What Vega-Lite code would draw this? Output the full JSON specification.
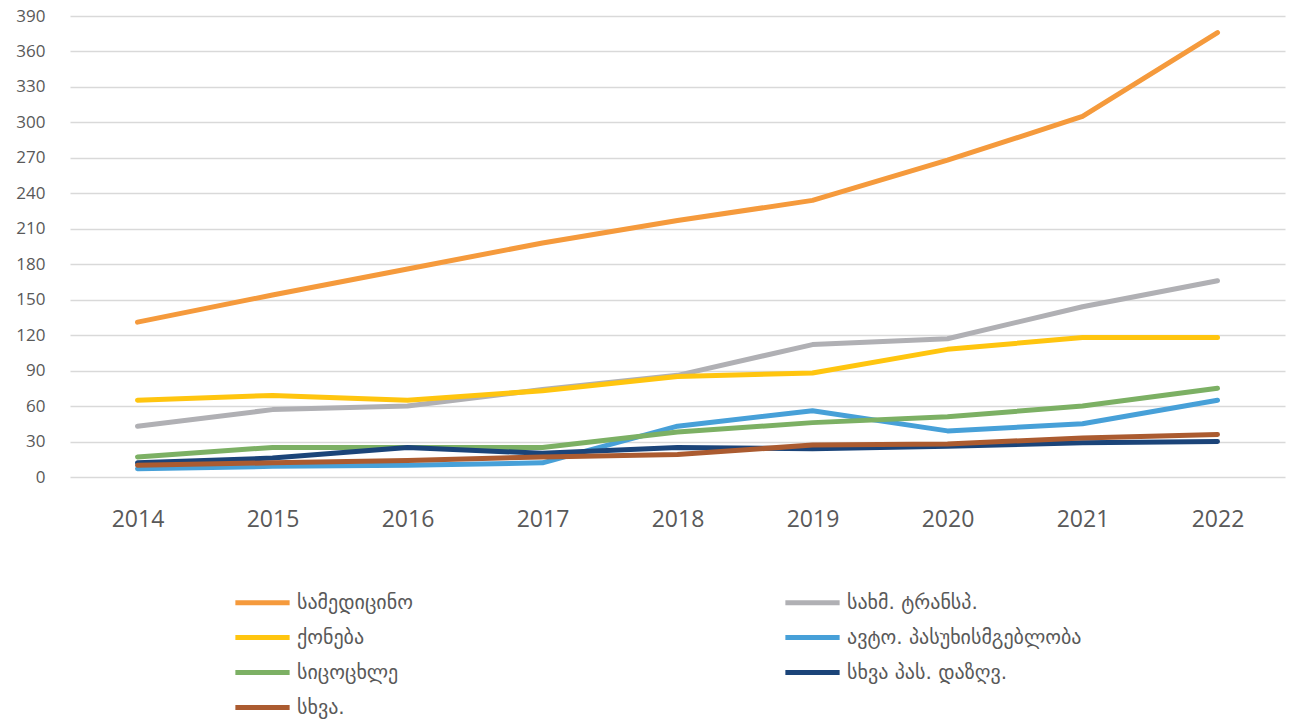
{
  "$schema": "https://vega.github.io/schema/vega-lite/v6.json",
  "width": 1215,
  "height": 461,
  "autosize": {"type": "none"},
  "padding": {"left": 70, "top": 16, "right": 12, "bottom": 247},
  "background": "white",
  "config": {"view": {"stroke": null}},
  "data": {"values": [
    {"year": "2014", "s": "სამედიცინო", "v": 131},
    {"year": "2015", "s": "სამედიცინო", "v": 154},
    {"year": "2016", "s": "სამედიცინო", "v": 176},
    {"year": "2017", "s": "სამედიცინო", "v": 198},
    {"year": "2018", "s": "სამედიცინო", "v": 217},
    {"year": "2019", "s": "სამედიცინო", "v": 234},
    {"year": "2020", "s": "სამედიცინო", "v": 268},
    {"year": "2021", "s": "სამედიცინო", "v": 305},
    {"year": "2022", "s": "სამედიცინო", "v": 376},
    {"year": "2014", "s": "სახმ. ტრანსპ.", "v": 43},
    {"year": "2015", "s": "სახმ. ტრანსპ.", "v": 57},
    {"year": "2016", "s": "სახმ. ტრანსპ.", "v": 60},
    {"year": "2017", "s": "სახმ. ტრანსპ.", "v": 74},
    {"year": "2018", "s": "სახმ. ტრანსპ.", "v": 86},
    {"year": "2019", "s": "სახმ. ტრანსპ.", "v": 112},
    {"year": "2020", "s": "სახმ. ტრანსპ.", "v": 117},
    {"year": "2021", "s": "სახმ. ტრანსპ.", "v": 144},
    {"year": "2022", "s": "სახმ. ტრანსპ.", "v": 166},
    {"year": "2014", "s": "ქონება", "v": 65},
    {"year": "2015", "s": "ქონება", "v": 69},
    {"year": "2016", "s": "ქონება", "v": 65},
    {"year": "2017", "s": "ქონება", "v": 73},
    {"year": "2018", "s": "ქონება", "v": 85},
    {"year": "2019", "s": "ქონება", "v": 88},
    {"year": "2020", "s": "ქონება", "v": 108},
    {"year": "2021", "s": "ქონება", "v": 118},
    {"year": "2022", "s": "ქონება", "v": 118},
    {"year": "2014", "s": "ავტო. პასუხისმგებლობა", "v": 7},
    {"year": "2015", "s": "ავტო. პასუხისმგებლობა", "v": 9},
    {"year": "2016", "s": "ავტო. პასუხისმგებლობა", "v": 10},
    {"year": "2017", "s": "ავტო. პასუხისმგებლობა", "v": 12},
    {"year": "2018", "s": "ავტო. პასუხისმგებლობა", "v": 43},
    {"year": "2019", "s": "ავტო. პასუხისმგებლობა", "v": 56},
    {"year": "2020", "s": "ავტო. პასუხისმგებლობა", "v": 39},
    {"year": "2021", "s": "ავტო. პასუხისმგებლობა", "v": 45},
    {"year": "2022", "s": "ავტო. პასუხისმგებლობა", "v": 65},
    {"year": "2014", "s": "სიცოცხლე", "v": 17},
    {"year": "2015", "s": "სიცოცხლე", "v": 25},
    {"year": "2016", "s": "სიცოცხლე", "v": 25},
    {"year": "2017", "s": "სიცოცხლე", "v": 25},
    {"year": "2018", "s": "სიცოცხლე", "v": 38},
    {"year": "2019", "s": "სიცოცხლე", "v": 46},
    {"year": "2020", "s": "სიცოცხლე", "v": 51},
    {"year": "2021", "s": "სიცოცხლე", "v": 60},
    {"year": "2022", "s": "სიცოცხლე", "v": 75},
    {"year": "2014", "s": "სხვა პას. დაზღვ.", "v": 12},
    {"year": "2015", "s": "სხვა პას. დაზღვ.", "v": 16},
    {"year": "2016", "s": "სხვა პას. დაზღვ.", "v": 25},
    {"year": "2017", "s": "სხვა პას. დაზღვ.", "v": 20},
    {"year": "2018", "s": "სხვა პას. დაზღვ.", "v": 25},
    {"year": "2019", "s": "სხვა პას. დაზღვ.", "v": 24},
    {"year": "2020", "s": "სხვა პას. დაზღვ.", "v": 26},
    {"year": "2021", "s": "სხვა პას. დაზღვ.", "v": 29},
    {"year": "2022", "s": "სხვა პას. დაზღვ.", "v": 30},
    {"year": "2014", "s": "სხვა.", "v": 10},
    {"year": "2015", "s": "სხვა.", "v": 12},
    {"year": "2016", "s": "სხვა.", "v": 14},
    {"year": "2017", "s": "სხვა.", "v": 17},
    {"year": "2018", "s": "სხვა.", "v": 19},
    {"year": "2019", "s": "სხვა.", "v": 27},
    {"year": "2020", "s": "სხვა.", "v": 28},
    {"year": "2021", "s": "სხვა.", "v": 33},
    {"year": "2022", "s": "სხვა.", "v": 36}
  ]},
  "mark": {"type": "line", "strokeWidth": 5, "strokeCap": "round", "strokeJoin": "round"},
  "encoding": {
    "x": {
      "field": "year", "type": "ordinal",
      "scale": {"type": "point", "padding": 0.5},
      "axis": {"title": null, "domain": false, "ticks": false, "grid": false, "labelAngle": 0,
               "labelFont": "Open Sans", "labelFontSize": 23, "labelColor": "#595959", "labelPadding": 31}
    },
    "y": {
      "field": "v", "type": "quantitative",
      "scale": {"domain": [0, 390], "nice": false},
      "axis": {"title": null, "domain": false, "ticks": false, "values": [0,30,60,90,120,150,180,210,240,270,300,330,360,390],
               "gridColor": "#d9d9d9", "gridWidth": 1.5, "labelFont": "Open Sans", "labelFontSize": 17,
               "labelColor": "#595959", "labelPadding": 25}
    },
    "color": {
      "field": "s", "type": "nominal",
      "sort": null,
      "scale": {
        "domain": ["სამედიცინო", "სახმ. ტრანსპ.", "ქონება", "ავტო. პასუხისმგებლობა", "სიცოცხლე", "სხვა პას. დაზღვ.", "სხვა."],
        "range": ["#F59A3C", "#B0B0B4", "#FFC50F", "#47A0D8", "#7CB064", "#1B4479", "#AB5B30"]
      },
      "legend": {
        "title": null, "orient": "none", "direction": "horizontal", "legendX": 171, "legendY": 565, "columns": 2, "columnPadding": 362,
        "symbolType": "M-1.45,0H1.45", "symbolSize": 1400, "symbolStrokeWidth": 5, "symbolOffset": 0,
        "labelFont": "DejaVu Sans", "labelFontSize": 20, "labelColor": "#595959", "labelOffset": 13,
        "rowPadding": 3, "labelLimit": 400
      }
    }
  }
}
